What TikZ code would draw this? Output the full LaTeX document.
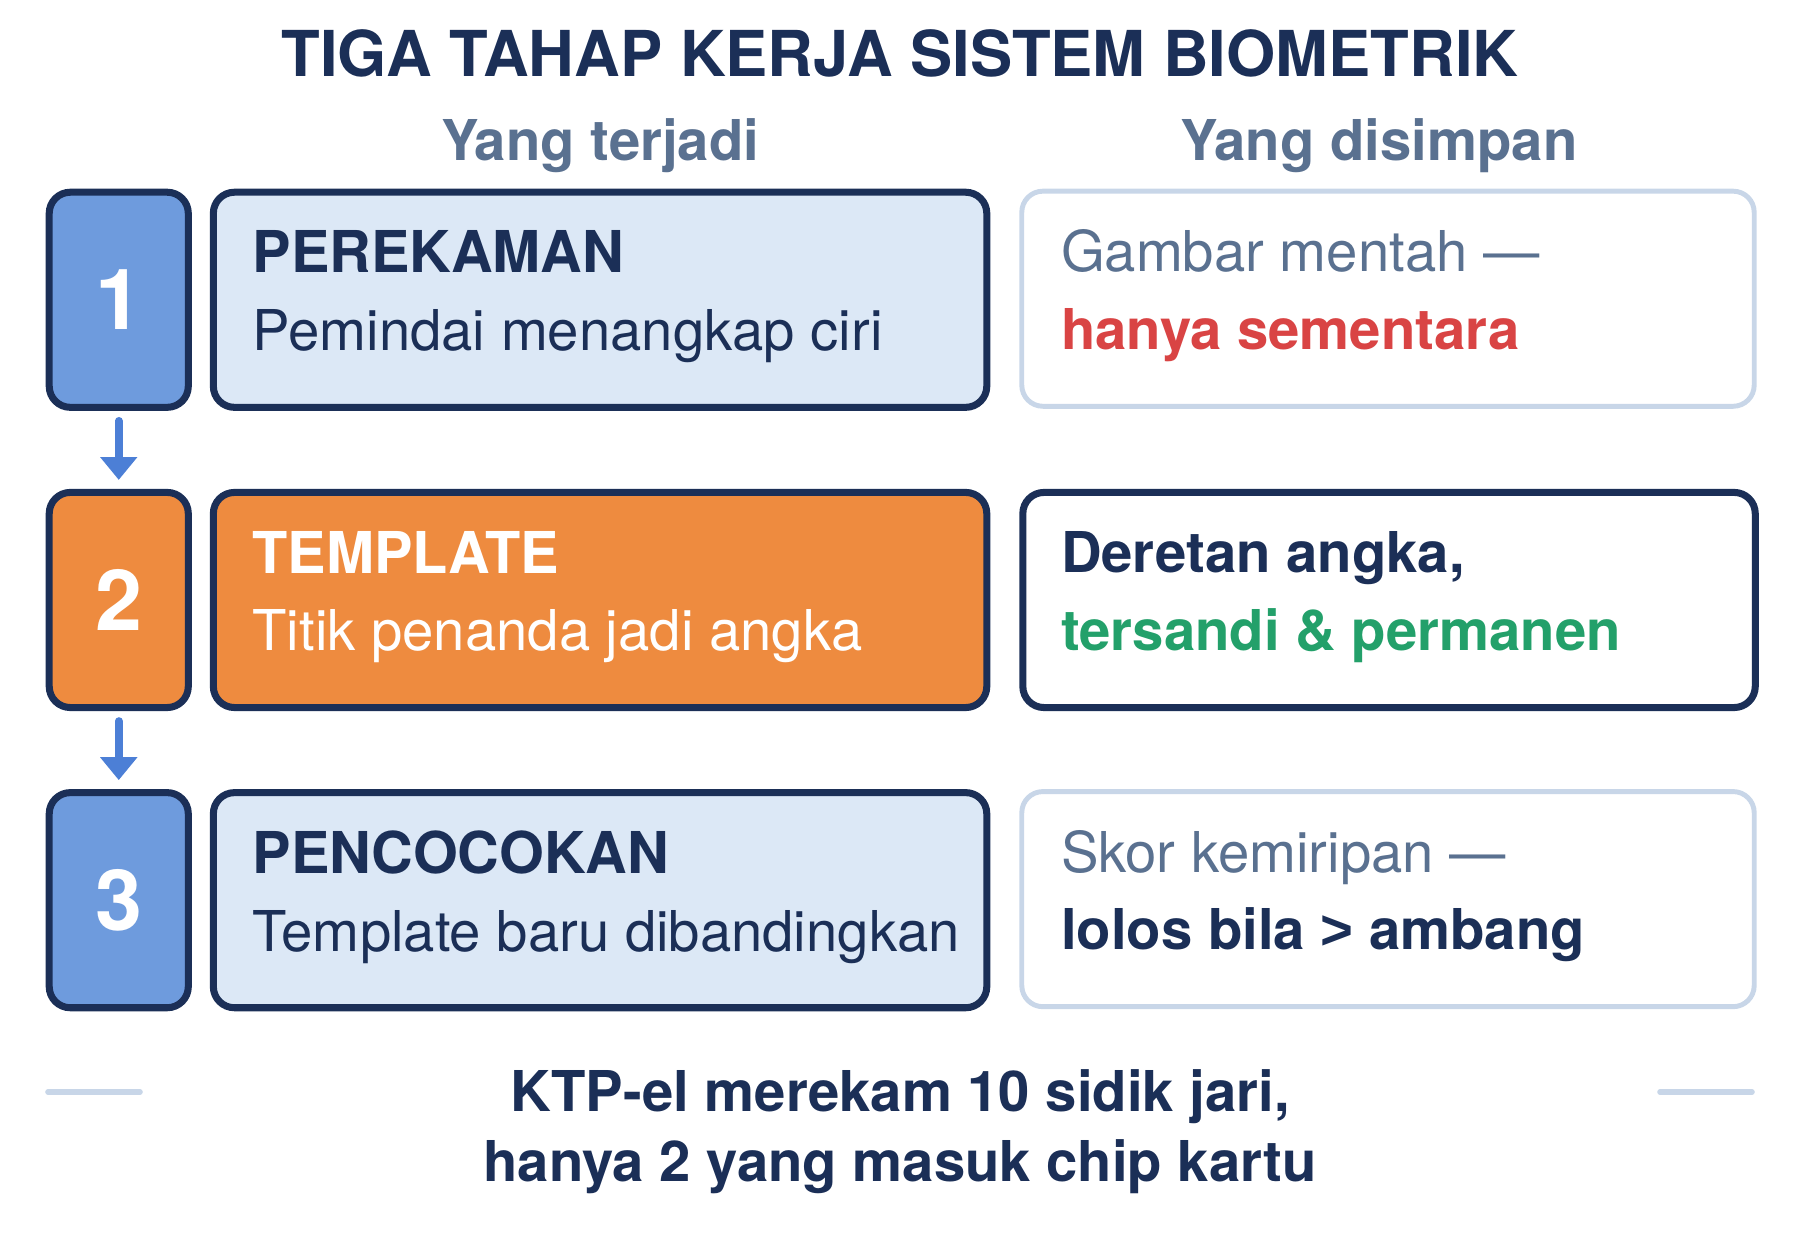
\documentclass[tikz,border=0pt]{standalone}
\usepackage{fontspec}
\setmainfont{TeX Gyre Heros}
\newfontfamily\gtfont{Liberation Sans}
\usetikzlibrary{positioning,matrix,arrows.meta}

\definecolor{navy}{HTML}{1B2F57}
\definecolor{slate}{HTML}{5A7190}
\definecolor{stepblue}{HTML}{6E9BDD}
\definecolor{steporange}{HTML}{EE8B3F}
\definecolor{paleblue}{HTML}{DCE8F6}
\definecolor{lightedge}{HTML}{C8D6E8}
\definecolor{arrowblue}{HTML}{4C7FD6}
\definecolor{warnred}{HTML}{D94444}
\definecolor{okgreen}{HTML}{23A06A}

\newcommand{\stagename}[1]{{\fontsize{16.4}{22}\selectfont\bfseries #1}}

\begin{document}
\begin{tikzpicture}
          [ x=0.01cm, y=-0.01cm,
            ampersand replacement=\&,
            numbox/.style={
              rectangle,
              draw=navy,
              line width=2pt,
              rounded corners=6pt,
              minimum width=1.39cm,
              minimum height=2.15cm,
              inner sep=0pt,
              text=white,
              font=\fontsize{24}{24}\selectfont\bfseries},
            stagebox/.style={
              rectangle,
              draw=navy,
              line width=2pt,
              rounded corners=6pt,
              fill=paleblue,
              minimum width=7.73cm,
              minimum height=2.15cm,
              inner sep=0pt},
            keptbox/.style={
              rectangle,
              draw=lightedge,
              line width=1.4pt,
              rounded corners=6pt,
              fill=white,
              minimum width=7.32cm,
              minimum height=2.15cm,
              inner sep=0pt},
            boxtext/.style={
              anchor=west,
              align=left,
              inner sep=0pt,
              yshift=0.03cm,
              text=navy,
              font=\fontsize{16}{22}\selectfont},
            heading/.style={
              text=navy,
              font=\fontsize{18}{20}\selectfont\bfseries},
            colhead/.style={
              text=slate,
              font=\fontsize{16}{18}\selectfont\bfseries},
            flow/.style={
              draw=arrowblue,
              line width=2.2pt,
              line cap=round,
              -{Triangle[width=10.2pt,length=6.5pt]},
              shorten <=0.10cm,
              shorten >=0.09cm},
            rule/.style={
              draw=lightedge,
              line width=1.6pt,
              line cap=round},
          ]
          \useasboundingbox (0,0) rectangle (1800,1240);

          \node (title) at (900,53) [heading] {TIGA TAHAP KERJA SISTEM BIOMETRIK};

          \matrix (rows) at (45,188) [anchor=north west, inner sep=0pt, row sep=0.78cm, column sep=0.18cm] {
            \node (num1) [numbox, fill=stepblue] {1}; \&
            \node (stage1) [stagebox] {}; \&[0.11cm]
            \node (kept1) [keptbox] {}; \\

            \node (num2) [numbox, fill=steporange] {2}; \&
            \node (stage2) [stagebox, fill=steporange] {}; \&[0.11cm]
            \node (kept2) [keptbox, draw=navy, line width=2pt] {}; \\

            \node (num3) [numbox, fill=stepblue] {3}; \&
            \node (stage3) [stagebox] {}; \&[0.11cm]
            \node (kept3) [keptbox] {}; \\
          };

          \coordinate (headrow) at (0,146);
          \node (headdone) at (stage1.north |- headrow) [colhead] {Yang terjadi};
          \node (headkept) at (1379,146) [colhead] {Yang disimpan};

          \draw [flow] (num1) -- (num2);
          \draw [flow] (num2) -- (num3);

          % what happens in each stage
          \node (say1) [boxtext, xshift=0.42cm] at (stage1.west) {\stagename{PEREKAMAN}\\Pemindai menangkap ciri};
          \node (say2) [boxtext, xshift=0.42cm, text=white] at (stage2.west) {\stagename{TEMPLATE}\\Titik penanda jadi angka};
          \node (say3) [boxtext, xshift=0.42cm] at (stage3.west) {\stagename{PENCOCOKAN}\\Template baru dibandingkan};

          % what is kept
          \node (keep1) [boxtext, xshift=0.41cm] at (kept1.west) {{\color{slate}Gambar mentah —}\\{\bfseries\color{warnred}hanya sementara}};
          \node (keep2) [boxtext, xshift=0.41cm] at (kept2.west) {{\bfseries Deretan angka,}\\{\bfseries\color{okgreen}tersandi \& permanen}};
          \node (keep3) [boxtext, xshift=0.41cm] at (kept3.west) {{\color{slate}Skor kemiripan —}\\{\bfseries lolos bila {\gtfont >} ambang}};

          \draw [rule] (48,1092) -- (140,1092);
          \draw [rule] (1660,1092) -- (1752,1092);

          \node (note) at (900,1132) [heading, align=center, font=\fontsize{16}{20}\selectfont\bfseries] {KTP-el merekam 10 sidik jari,\\hanya 2 yang masuk chip kartu};

        \end{tikzpicture}
\end{document}
